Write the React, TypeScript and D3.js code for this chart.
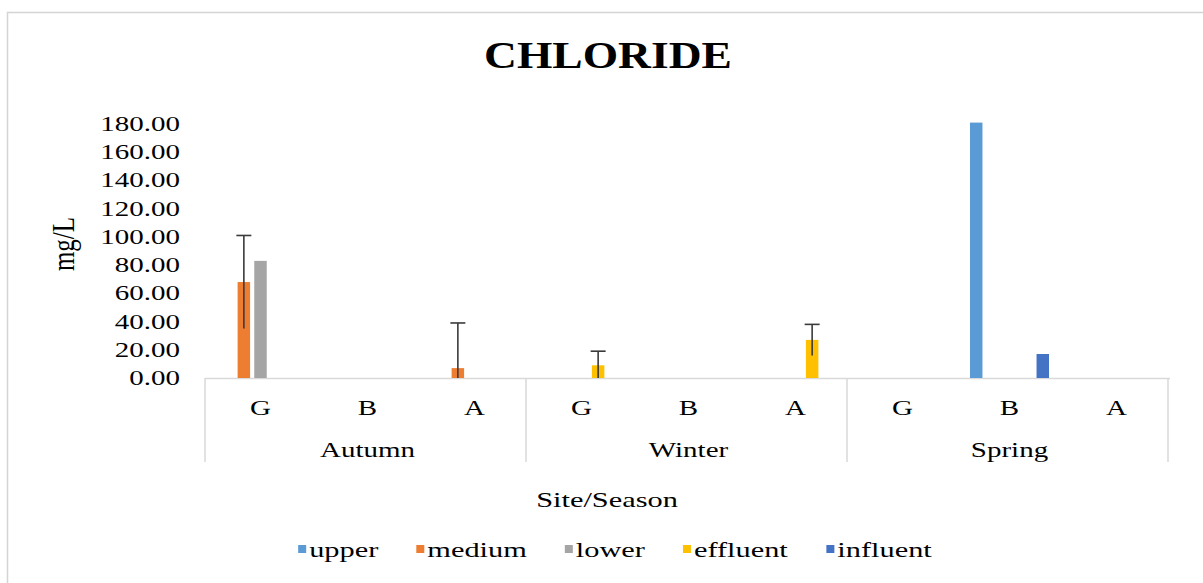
import React from "react";
import * as d3 from "d3";

const seasons = ["Autumn", "Winter", "Spring"];
const sites = ["G", "B", "A"];
const seriesNames = ["upper", "medium", "lower", "effluent", "influent"];
const seriesColors = ["#5B9BD5", "#ED7D31", "#A5A5A5", "#FFC000", "#4472C4"];

// values per series, in order Autumn G,B,A / Winter G,B,A / Spring G,B,A
const upper = [0, 0, 0, 0, 0, 0, 0, 181, 0];
const medium = [68, 0, 7, 0, 0, 0, 0, 0, 0];
const lower = [83, 0, 0, 0, 0, 0, 0, 0, 0];
const effluent = [0, 0, 0, 9, 0, 27, 0, 0, 0];
const influent = [0, 0, 0, 0, 0, 0, 0, 17, 0];

// error (+/-) per series
const mediumErr = [33, 0, 32, 0, 0, 0, 0, 0, 0];
const effluentErr = [0, 0, 0, 10, 0, 11, 0, 0, 0];

const yTicks = [0, 20, 40, 60, 80, 100, 120, 140, 160, 180];

const FONT = "'Liberation Serif', 'Times New Roman', serif";
const SX = 1.38; // horizontal stretch of the text in the source picture

const T = ({ x, y, size, anchor = "middle", sx = SX, weight = "normal", children }: any) => (
  <text
    transform={`translate(${x},${y}) scale(${sx},1)`}
    fontFamily={FONT}
    fontSize={size}
    fontWeight={weight}
    textAnchor={anchor}
    fill="#000"
  >
    {children}
  </text>
);

export default function App() {
  const width = 1203;
  const height = 583;
  const x0 = 207,
    x1 = 1170,
    yBase = 378,
    yTop = 124;

  const values = [upper, medium, lower, effluent, influent];
  const errors = [null, mediumErr, null, effluentErr, null];

  const cats = seasons.flatMap((s) => sites.map((g) => `${s}-${g}`));
  const x = d3.scaleBand().domain(cats).range([x0, x1]);
  const xs = d3
    .scaleBand()
    .domain(seriesNames)
    .range([0, x.bandwidth()])
    .paddingInner(0.25)
    .paddingOuter(0.84);
  const y = d3.scaleLinear().domain([0, 180]).range([yBase, yTop]);

  const seasonW = x.step() * sites.length;
  const tableBottom = 462;

  // legend layout
  const legendSize = 22;
  const charW = (s: string) => {
    const w: any = { u: 0.5, p: 0.5, e: 0.444, r: 0.333, m: 0.778, d: 0.5, i: 0.278, l: 0.278, o: 0.5, w: 0.722, f: 0.333, n: 0.5, t: 0.278 };
    return s.split("").reduce((a, c) => a + (w[c] || 0.5), 0) * legendSize * SX;
  };
  const marker = 8,
    markerGap = 3,
    itemGap = 38;
  const itemWidths = seriesNames.map((s) => marker + markerGap + charW(s));
  const legendTotal = d3.sum(itemWidths) + itemGap * (seriesNames.length - 1);
  let lx = 615 - legendTotal / 2;
  const legendItems = seriesNames.map((s, i) => {
    const item = { name: s, color: seriesColors[i], x: lx };
    lx += itemWidths[i] + itemGap;
    return item;
  });
  const legendY = 553;

  return (
    <svg
      width={width}
      height={height}
      style={{ position: "absolute", left: 0, top: 0, background: "#fff" }}
    >
      <rect x={7.5} y={12.5} width={1200} height={580} fill="#fff" stroke="#d4d4d4" strokeWidth={1.5} />

      <T x={608} y={68} size={37} weight="bold" sx={1.23}>
        CHLORIDE
      </T>

      {/* y axis labels */}
      {yTicks.map((t) => (
        <T key={t} x={180} y={y(t) + 7} size={21} anchor="end">
          {t.toFixed(2)}
        </T>
      ))}
      <text
        transform={`translate(${74},${244}) rotate(-90) scale(1,1.3)`}
        fontFamily={FONT}
        fontSize={25}
        textAnchor="middle"
      >
        mg/L
      </text>

      {/* category axis */}
      <line x1={x0 - 2} x2={x1} y1={yBase + 0.5} y2={yBase + 0.5} stroke="#d9d9d9" strokeWidth={1.5} />
      {d3.range(seasons.length + 1).map((i) => (
        <line
          key={i}
          x1={x0 - 2 + i * seasonW}
          x2={x0 - 2 + i * seasonW}
          y1={yBase}
          y2={tableBottom}
          stroke="#d9d9d9"
          strokeWidth={1.5}
        />
      ))}
      {cats.map((c) => (
        <T key={c} x={(x(c) as number) + x.bandwidth() / 2} y={415} size={21}>
          {c.split("-")[1]}
        </T>
      ))}
      {seasons.map((s, i) => (
        <T key={s} x={x0 + seasonW * (i + 0.5)} y={457} size={21}>
          {s}
        </T>
      ))}
      <T x={607} y={507} size={22}>
        Site/Season
      </T>

      {/* bars */}
      {values.map((vals, si) =>
        vals.map((v, ci) =>
          v > 0 ? (
            <rect
              key={`${si}-${ci}`}
              x={(x(cats[ci]) as number) + (xs(seriesNames[si]) as number)}
              y={y(v)}
              width={xs.bandwidth()}
              height={yBase - y(v)}
              fill={seriesColors[si]}
            />
          ) : null
        )
      )}

      {/* error bars */}
      {errors.map((errs, si) =>
        errs
          ? errs.map((e, ci) => {
              if (!e) return null;
              const v = values[si][ci];
              const cx = (x(cats[ci]) as number) + (xs(seriesNames[si]) as number) + xs.bandwidth() / 2;
              return (
                <g key={`e-${si}-${ci}`} stroke="#3a3a3a" strokeWidth={1.6}>
                  <line x1={cx} x2={cx} y1={y(Math.max(v - e, 0))} y2={y(v + e)} />
                  <line x1={cx - 7.5} x2={cx + 7.5} y1={y(v + e)} y2={y(v + e)} />
                </g>
              );
            })
          : null
      )}

      {/* legend */}
      {legendItems.map((it) => (
        <g key={it.name}>
          <rect x={it.x} y={legendY - 4 - marker / 2} width={marker} height={marker} fill={it.color} />
          <T x={it.x + marker + markerGap} y={legendY + 4} size={legendSize} anchor="start">
            {it.name}
          </T>
        </g>
      ))}
    </svg>
  );
}
